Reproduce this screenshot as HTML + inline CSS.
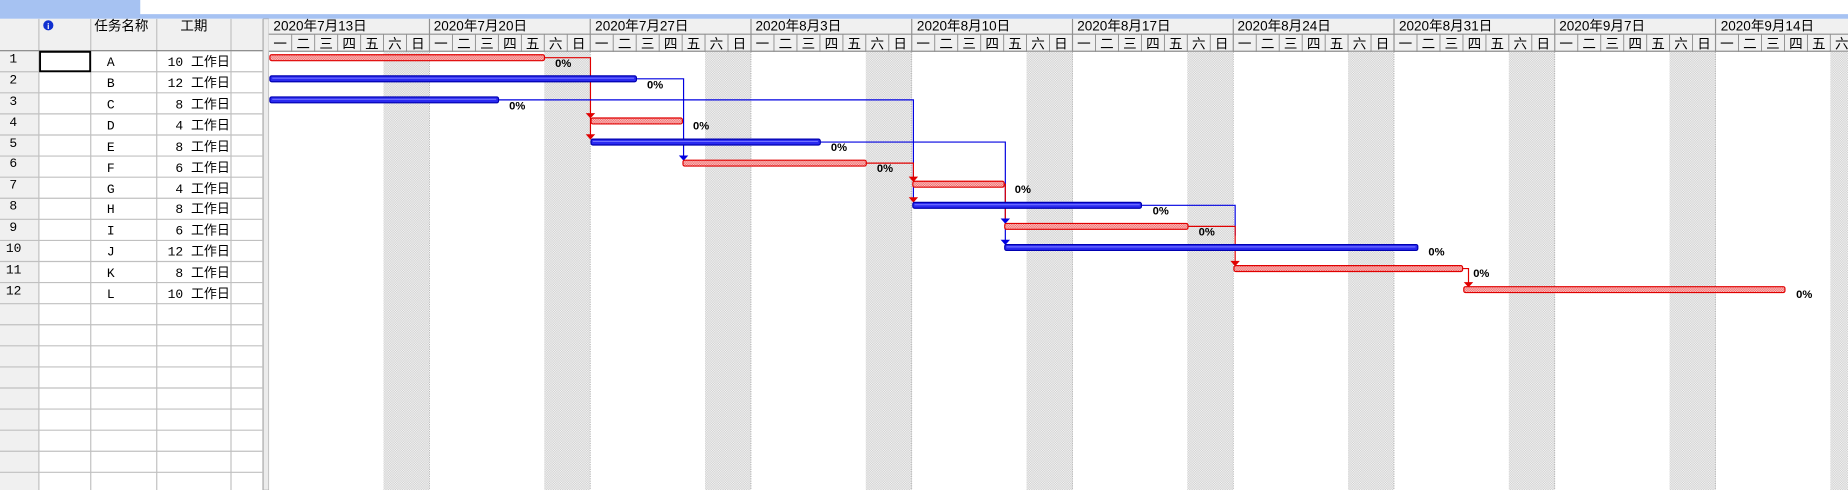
<!DOCTYPE html>
<html><head><meta charset="utf-8"><style>
html,body{margin:0;padding:0;background:#fff;overflow:hidden}
svg{display:block}
text{font-family:"Liberation Sans","Noto Sans CJK SC",sans-serif}
.h{font-size:11.5px;fill:#000}
.d{font-size:11.5px;fill:#000;text-anchor:middle}
.t text{font-family:"Liberation Mono","Noto Sans CJK SC",monospace;font-size:11px}
.p{font-family:"Liberation Sans",sans-serif;font-size:9.5px;font-weight:bold}
</style></head><body>
<svg width="1848" height="490" viewBox="0 0 1568 416" preserveAspectRatio="none" xmlns="http://www.w3.org/2000/svg">
<defs>
<pattern id="wk" width="2" height="2" patternUnits="userSpaceOnUse"><rect width="2" height="2" fill="#f6f6f6"/><rect width="1" height="1" fill="#cdcdcd"/><rect x="1" y="1" width="1" height="1" fill="#cdcdcd"/></pattern>
<pattern id="rb" width="2" height="2" patternUnits="userSpaceOnUse"><rect width="2" height="2" fill="#fbd0d0"/><rect width="1" height="1" fill="#f06060"/><rect x="1" y="1" width="1" height="1" fill="#f06060"/></pattern>
</defs>
<rect x="0" y="0" width="1568" height="16" fill="#fff"/>
<rect x="0" y="12" width="1568" height="4" fill="#a6c2f2"/>
<rect x="0" y="0" width="119" height="16" fill="#a6c2f2"/>
<rect x="0" y="16" width="223" height="400" fill="#fff"/>
<rect x="0" y="16" width="223" height="27" fill="#f0f0f0"/>
<rect x="0" y="43" width="33" height="373" fill="#f0f0f0"/>
<g stroke="#c0c0c0" stroke-width="1">
<line x1="0" y1="43" x2="223" y2="43"/><line x1="0" y1="60.9" x2="223" y2="60.9"/><line x1="0" y1="78.8" x2="223" y2="78.8"/><line x1="0" y1="96.7" x2="223" y2="96.7"/><line x1="0" y1="114.6" x2="223" y2="114.6"/><line x1="0" y1="132.5" x2="223" y2="132.5"/><line x1="0" y1="150.4" x2="223" y2="150.4"/><line x1="0" y1="168.3" x2="223" y2="168.3"/><line x1="0" y1="186.2" x2="223" y2="186.2"/><line x1="0" y1="204.1" x2="223" y2="204.1"/><line x1="0" y1="222" x2="223" y2="222"/><line x1="0" y1="239.9" x2="223" y2="239.9"/><line x1="0" y1="257.8" x2="223" y2="257.8"/><line x1="0" y1="275.7" x2="223" y2="275.7"/><line x1="0" y1="293.6" x2="223" y2="293.6"/><line x1="0" y1="311.5" x2="223" y2="311.5"/><line x1="0" y1="329.4" x2="223" y2="329.4"/><line x1="0" y1="347.3" x2="223" y2="347.3"/><line x1="0" y1="365.2" x2="223" y2="365.2"/><line x1="0" y1="383.1" x2="223" y2="383.1"/><line x1="0" y1="401" x2="223" y2="401"/>
<line x1="33" y1="16" x2="33" y2="416"/><line x1="77" y1="16" x2="77" y2="416"/><line x1="133" y1="16" x2="133" y2="416"/><line x1="196" y1="16" x2="196" y2="416"/><line x1="223" y1="16" x2="223" y2="416"/>
</g>
<line x1="0" y1="43" x2="223" y2="43" stroke="#909090"/>
<rect x="223.5" y="16" width="4.5" height="400" fill="#ececec" stroke="#b0b0b0" stroke-width="0.6"/>
<circle cx="41" cy="21.5" r="4.3" fill="#1030d0"/><text x="41" y="24.6" font-size="7" font-weight="bold" fill="#fff" text-anchor="middle" font-family="Liberation Serif">i</text>
<text x="80" y="26" class="h" font-size="12">任务名称</text>
<text x="153" y="26" class="h" font-size="12">工期</text>
<rect x="34" y="44" width="42.5" height="16.5" fill="none" stroke="#000" stroke-width="1.6"/>
<g class="t">
<text x="8" y="53">1</text><text x="8" y="71">2</text><text x="8" y="89">3</text><text x="8" y="107">4</text><text x="8" y="125">5</text><text x="8" y="142">6</text><text x="8" y="160">7</text><text x="8" y="178">8</text><text x="8" y="196">9</text><text x="5" y="214">10</text><text x="5" y="232">11</text><text x="5" y="250">12</text>
<g text-anchor="middle"><text x="94" y="56">A</text><text x="94" y="74">B</text><text x="94" y="92">C</text><text x="94" y="110">D</text><text x="94" y="128">E</text><text x="94" y="146">F</text><text x="94" y="164">G</text><text x="94" y="181">H</text><text x="94" y="199">I</text><text x="94" y="217">J</text><text x="94" y="235">K</text><text x="94" y="253">L</text></g>
<g text-anchor="end"><text x="195" y="56">10 工作日</text><text x="195" y="74">12 工作日</text><text x="195" y="92">8 工作日</text><text x="195" y="110">4 工作日</text><text x="195" y="128">8 工作日</text><text x="195" y="146">6 工作日</text><text x="195" y="164">4 工作日</text><text x="195" y="181">8 工作日</text><text x="195" y="199">6 工作日</text><text x="195" y="217">12 工作日</text><text x="195" y="235">8 工作日</text><text x="195" y="253">10 工作日</text></g>
</g>
<rect x="228" y="16" width="1340" height="28" fill="#f0f0f0"/>
<line x1="228" y1="29" x2="1568" y2="29" stroke="#909090"/>
<line x1="228" y1="43.5" x2="1568" y2="43.5" stroke="#909090"/>
<g stroke="#909090">
<line x1="364.4" y1="16" x2="364.4" y2="44"/><line x1="500.8" y1="16" x2="500.8" y2="44"/><line x1="637.2" y1="16" x2="637.2" y2="44"/><line x1="773.6" y1="16" x2="773.6" y2="44"/><line x1="910" y1="16" x2="910" y2="44"/><line x1="1046.4" y1="16" x2="1046.4" y2="44"/><line x1="1182.8" y1="16" x2="1182.8" y2="44"/><line x1="1319.2" y1="16" x2="1319.2" y2="44"/><line x1="1455.6" y1="16" x2="1455.6" y2="44"/>
</g>
<g class="h">
<text x="232" y="26">2020年7月13日</text><text x="368" y="26">2020年7月20日</text><text x="505" y="26">2020年7月27日</text><text x="641" y="26">2020年8月3日</text><text x="778" y="26">2020年8月10日</text><text x="914" y="26">2020年8月17日</text><text x="1050" y="26">2020年8月24日</text><text x="1187" y="26">2020年8月31日</text><text x="1323" y="26">2020年9月7日</text><text x="1460" y="26">2020年9月14日</text>
</g>
<g fill="url(#wk)">
<rect x="325.4" y="44" width="39" height="372"/><rect x="461.8" y="44" width="39" height="372"/><rect x="598.2" y="44" width="39" height="372"/><rect x="734.6" y="44" width="39" height="372"/><rect x="871" y="44" width="39" height="372"/><rect x="1007.4" y="44" width="39" height="372"/><rect x="1143.8" y="44" width="39" height="372"/><rect x="1280.2" y="44" width="39" height="372"/><rect x="1416.6" y="44" width="39" height="372"/><rect x="1553" y="44" width="15" height="372"/>
</g>
<g stroke="#a0a0a0" stroke-width="0.6" stroke-dasharray="1,1">
<line x1="364.4" y1="44" x2="364.4" y2="416"/><line x1="500.8" y1="44" x2="500.8" y2="416"/><line x1="637.2" y1="44" x2="637.2" y2="416"/><line x1="773.6" y1="44" x2="773.6" y2="416"/><line x1="910" y1="44" x2="910" y2="416"/><line x1="1046.4" y1="44" x2="1046.4" y2="416"/><line x1="1182.8" y1="44" x2="1182.8" y2="416"/><line x1="1319.2" y1="44" x2="1319.2" y2="416"/><line x1="1455.6" y1="44" x2="1455.6" y2="416"/>
</g>
<g stroke="#909090" stroke-width="0.8">
<path d="M247.5 29V44M267 29V44M286.5 29V44M306 29V44M325.4 29V44M344.9 29V44"/>
<path d="M247.5 29V44M267 29V44M286.5 29V44M306 29V44M325.4 29V44M344.9 29V44" transform="translate(136.4)"/>
<path d="M247.5 29V44M267 29V44M286.5 29V44M306 29V44M325.4 29V44M344.9 29V44" transform="translate(272.8)"/>
<path d="M247.5 29V44M267 29V44M286.5 29V44M306 29V44M325.4 29V44M344.9 29V44" transform="translate(409.2)"/>
<path d="M247.5 29V44M267 29V44M286.5 29V44M306 29V44M325.4 29V44M344.9 29V44" transform="translate(545.6)"/>
<path d="M247.5 29V44M267 29V44M286.5 29V44M306 29V44M325.4 29V44M344.9 29V44" transform="translate(682)"/>
<path d="M247.5 29V44M267 29V44M286.5 29V44M306 29V44M325.4 29V44M344.9 29V44" transform="translate(818.4)"/>
<path d="M247.5 29V44M267 29V44M286.5 29V44M306 29V44M325.4 29V44M344.9 29V44" transform="translate(954.8)"/>
<path d="M247.5 29V44M267 29V44M286.5 29V44M306 29V44M325.4 29V44M344.9 29V44" transform="translate(1091.2)"/>
<path d="M247.5 29V44M267 29V44M286.5 29V44M306 29V44M325.4 29V44M344.9 29V44" transform="translate(1227.6)"/>
</g>
<g class="d">
<text transform="translate(228)" x="9.7 29.2 48.7 68.2 87.6 107.1 126.6" y="41">一二三四五六日</text>
<text transform="translate(364.4)" x="9.7 29.2 48.7 68.2 87.6 107.1 126.6" y="41">一二三四五六日</text>
<text transform="translate(500.8)" x="9.7 29.2 48.7 68.2 87.6 107.1 126.6" y="41">一二三四五六日</text>
<text transform="translate(637.2)" x="9.7 29.2 48.7 68.2 87.6 107.1 126.6" y="41">一二三四五六日</text>
<text transform="translate(773.6)" x="9.7 29.2 48.7 68.2 87.6 107.1 126.6" y="41">一二三四五六日</text>
<text transform="translate(910)" x="9.7 29.2 48.7 68.2 87.6 107.1 126.6" y="41">一二三四五六日</text>
<text transform="translate(1046.4)" x="9.7 29.2 48.7 68.2 87.6 107.1 126.6" y="41">一二三四五六日</text>
<text transform="translate(1182.8)" x="9.7 29.2 48.7 68.2 87.6 107.1 126.6" y="41">一二三四五六日</text>
<text transform="translate(1319.2)" x="9.7 29.2 48.7 68.2 87.6 107.1 126.6" y="41">一二三四五六日</text>
<text transform="translate(1455.6)" x="9.7 29.2 48.7 68.2 87.6 107.1" y="41">一二三四五六</text>
</g>
<g fill="none" stroke-width="1">
<path d="M462 49H501V118" stroke="#e00000"/>
<path d="M540 66.9H580V136" stroke="#0000e0"/>
<path d="M423 84.8H775V171.8" stroke="#0000e0"/>
<path d="M735 138.5H775V154" stroke="#e00000"/>
<path d="M696 120.6H853V207.6" stroke="#0000e0"/>
<path d="M852 156.4H853V189.7" stroke="#e00000"/>
<path d="M969 174.3H1048V200" stroke="#0000e0"/>
<path d="M1008 192.2H1048V225.5" stroke="#e00000"/>
<path d="M1241 228H1246V243.4" stroke="#e00000"/>
</g>
<g>
<path d="M497 96H505L501 100.5Z" fill="#e00000"/>
<path d="M497 114H505L501 118.5Z" fill="#e00000"/>
<path d="M576 132H584L580 136.5Z" fill="#0000e0"/>
<path d="M771 150H779L775 154.5Z" fill="#e00000"/>
<path d="M771 167.5H779L775 172Z" fill="#e00000"/>
<path d="M849 185.5H857L853 190Z" fill="#0000e0"/>
<path d="M849 203.5H857L853 208Z" fill="#0000e0"/>
<path d="M1044 221.5H1052L1048 226Z" fill="#e00000"/>
<path d="M1242 239.5H1250L1246 244Z" fill="#e00000"/>
</g>
<g stroke="#e00000" stroke-width="1" fill="url(#rb)">
<rect x="229" y="46.5" width="233" height="5" rx="1.5"/>
<rect x="501.5" y="100.2" width="77.5" height="5" rx="1.5"/>
<rect x="579.5" y="136" width="155.5" height="5" rx="1.5"/>
<rect x="774.5" y="153.9" width="77.5" height="5" rx="1.5"/>
<rect x="852.5" y="189.7" width="155.5" height="5" rx="1.5"/>
<rect x="1047" y="225.5" width="194" height="5" rx="1.5"/>
<rect x="1242" y="243.4" width="272.5" height="5" rx="1.5"/>
</g>
<g stroke="#0000b0" stroke-width="1" fill="#2a2af0">
<rect x="229" y="64.4" width="311" height="5" rx="1.5"/>
<rect x="229" y="82.3" width="194" height="5" rx="1.5"/>
<rect x="501.5" y="118.1" width="194.5" height="5" rx="1.5"/>
<rect x="774.5" y="171.8" width="194" height="5" rx="1.5"/>
<rect x="852.5" y="207.6" width="350.5" height="5" rx="1.5"/>
</g>
<g stroke="#7070ff" stroke-width="1">
<line x1="231" y1="66.4" x2="538" y2="66.4"/><line x1="231" y1="84.3" x2="421" y2="84.3"/><line x1="503" y1="120.1" x2="694" y2="120.1"/><line x1="776" y1="173.8" x2="967" y2="173.8"/><line x1="854" y1="209.6" x2="1201" y2="209.6"/>
</g>
<g class="p">
<text x="471" y="57">0%</text><text x="549" y="75">0%</text><text x="432" y="93">0%</text><text x="588" y="110">0%</text><text x="705" y="128">0%</text><text x="744" y="146">0%</text><text x="861" y="164">0%</text><text x="978" y="182">0%</text><text x="1017" y="200">0%</text><text x="1212" y="217">0%</text><text x="1250" y="235">0%</text><text x="1524" y="253">0%</text>
</g>
</svg>
</body></html>
